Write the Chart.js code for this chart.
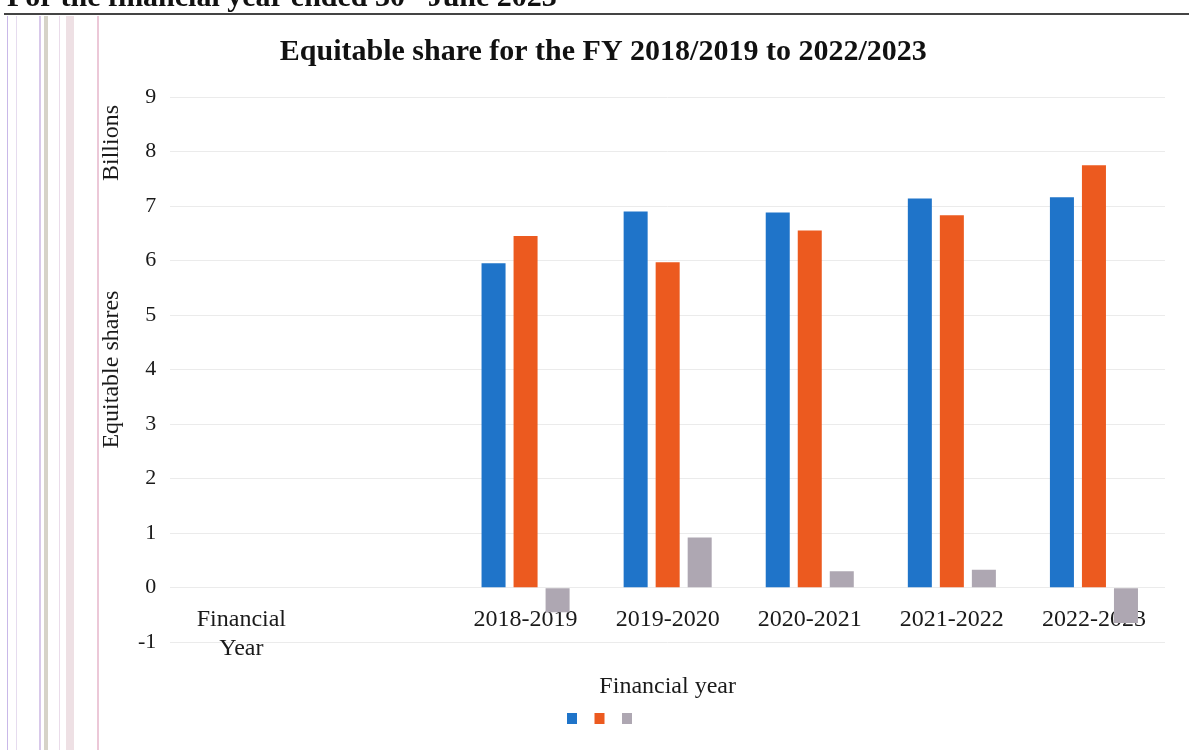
<!DOCTYPE html>
<html>
<head>
<meta charset="utf-8">
<script src="https://cdn.jsdelivr.net/npm/chart.js@4.4.1/dist/chart.umd.min.js"></script>
<style>
    html, body { margin: 0; padding: 0; background: #fff; }
    #wrap { position: relative; width: 1189px; height: 750px; overflow: hidden; }
    #chart { position: absolute; left: 0; top: 0; }
    #header {
        position: absolute; left: 7px; top: -21px;
        font: bold 30px "Liberation Serif", serif; color: #111; white-space: nowrap;
    }
    #rule { position: absolute; left: 4px; right: 0; top: 13px; height: 2px; background: #444; }
    .scan { position: absolute; top: 16px; bottom: 0; }
</style>
</head>
<body>
<div id="wrap">
    <canvas id="chart" width="1189" height="750"></canvas>
    <div id="header">For the financial year ended 30<sup style="font-size:17px">th</sup> June 2023</div>
    <div id="rule"></div>
    <!-- scanner streaks on the left edge -->
    <div class="scan" style="left:7px;width:1px;background:#c9b8e8"></div>
    <div class="scan" style="left:16px;width:1px;background:#e6dcef"></div>
    <div class="scan" style="left:39px;width:2px;background:#d8c8ea"></div>
    <div class="scan" style="left:44px;width:4px;background:#d6d3c8"></div>
    <div class="scan" style="left:59px;width:1px;background:#eadcea"></div>
    <div class="scan" style="left:66px;width:8px;background:#eee0e4"></div>
    <div class="scan" style="left:97px;width:2px;background:#ecc8d8"></div>
</div>
<script>
// Categories (second slot is an empty category in the original)
const categories = [['Financial', 'Year'], '', '2018-2019', '2019-2020', '2020-2021', '2021-2022', '2022-2023'];

// Series values in billions (no legend text in the original)
const blueValues = [null, null, 5.95, 6.9, 6.88, 7.14, 7.16];
const orangeValues = [null, null, 6.45, 5.97, 6.55, 6.83, 7.75];
const greyValues = [null, null, -0.45, 0.92, 0.3, 0.33, -0.65];

// Y ticks
const yMin = -1;
const yMax = 9;
const yStep = 1;

const serif = '"Liberation Serif", "Times New Roman", serif';
const textColor = '#1a1a1a';

/**
 * Draws the "Billions" display unit label next to the y axis
 */
const unitLabel = {
    id: 'unitLabel',
    afterDraw(chart) {
        const ctx = chart.ctx;
        ctx.save();
        ctx.translate(112, 143);
        ctx.rotate(-Math.PI / 2);
        ctx.font = '24px ' + serif;
        ctx.fillStyle = textColor;
        ctx.textAlign = 'center';
        ctx.textBaseline = 'middle';
        ctx.fillText('Billions', 0, 0);
        ctx.restore();
    }
};

new Chart(document.getElementById('chart'), {
    type: 'bar',
    data: {
        labels: categories,
        datasets: [
            { label: '', data: blueValues, backgroundColor: '#1F74C9' },
            { label: '', data: orangeValues, backgroundColor: '#EC5A1F' },
            { label: '', data: greyValues, backgroundColor: '#AEA7B2' }
        ]
    },
    options: {
        responsive: false,
        animation: false,
        categoryPercentage: 0.676,
        barPercentage: 0.75,
        layout: { padding: { left: 41.5, right: 24, top: 0, bottom: 14 } },
        plugins: {
            title: {
                display: true,
                text: 'Equitable share for the FY 2018/2019 to 2022/2023',
                color: '#111',
                font: { family: serif, size: 30, weight: 'bold' },
                padding: { top: 34, bottom: 27 }
            },
            legend: {
                display: true,
                position: 'bottom',
                labels: { boxWidth: 10, boxHeight: 11, padding: 10, font: { size: 15 } }
            },
            tooltip: { enabled: false }
        },
        scales: {
            x: {
                grid: { display: false, drawTicks: false },
                border: { display: false },
                ticks: { display: false },
                title: {
                    display: true,
                    text: 'Financial year',
                    color: textColor,
                    font: { family: serif, size: 24 },
                    padding: { top: 30, bottom: 0 }
                }
            },
            xLabels: {
                type: 'category',
                labels: categories,
                position: { y: 0 },
                offset: true,
                z: 1,
                grid: { display: false, drawTicks: false },
                border: { display: false },
                ticks: {
                    color: textColor,
                    font: { family: serif, size: 24 },
                    padding: 18,
                    maxRotation: 0,
                    autoSkip: false
                }
            },
            y: {
                min: yMin,
                max: yMax,
                grid: { color: '#ebebeb', drawTicks: false },
                border: { display: false },
                ticks: {
                    stepSize: yStep,
                    color: textColor,
                    font: { family: serif, size: 22 },
                    padding: 14
                },
                title: {
                    display: true,
                    text: 'Equitable shares',
                    color: textColor,
                    font: { family: serif, size: 24, lineHeight: 1 },
                    padding: { top: 58.5, bottom: 0 }
                }
            }
        }
    },
    plugins: [unitLabel]
});
</script>
</body>
</html>
